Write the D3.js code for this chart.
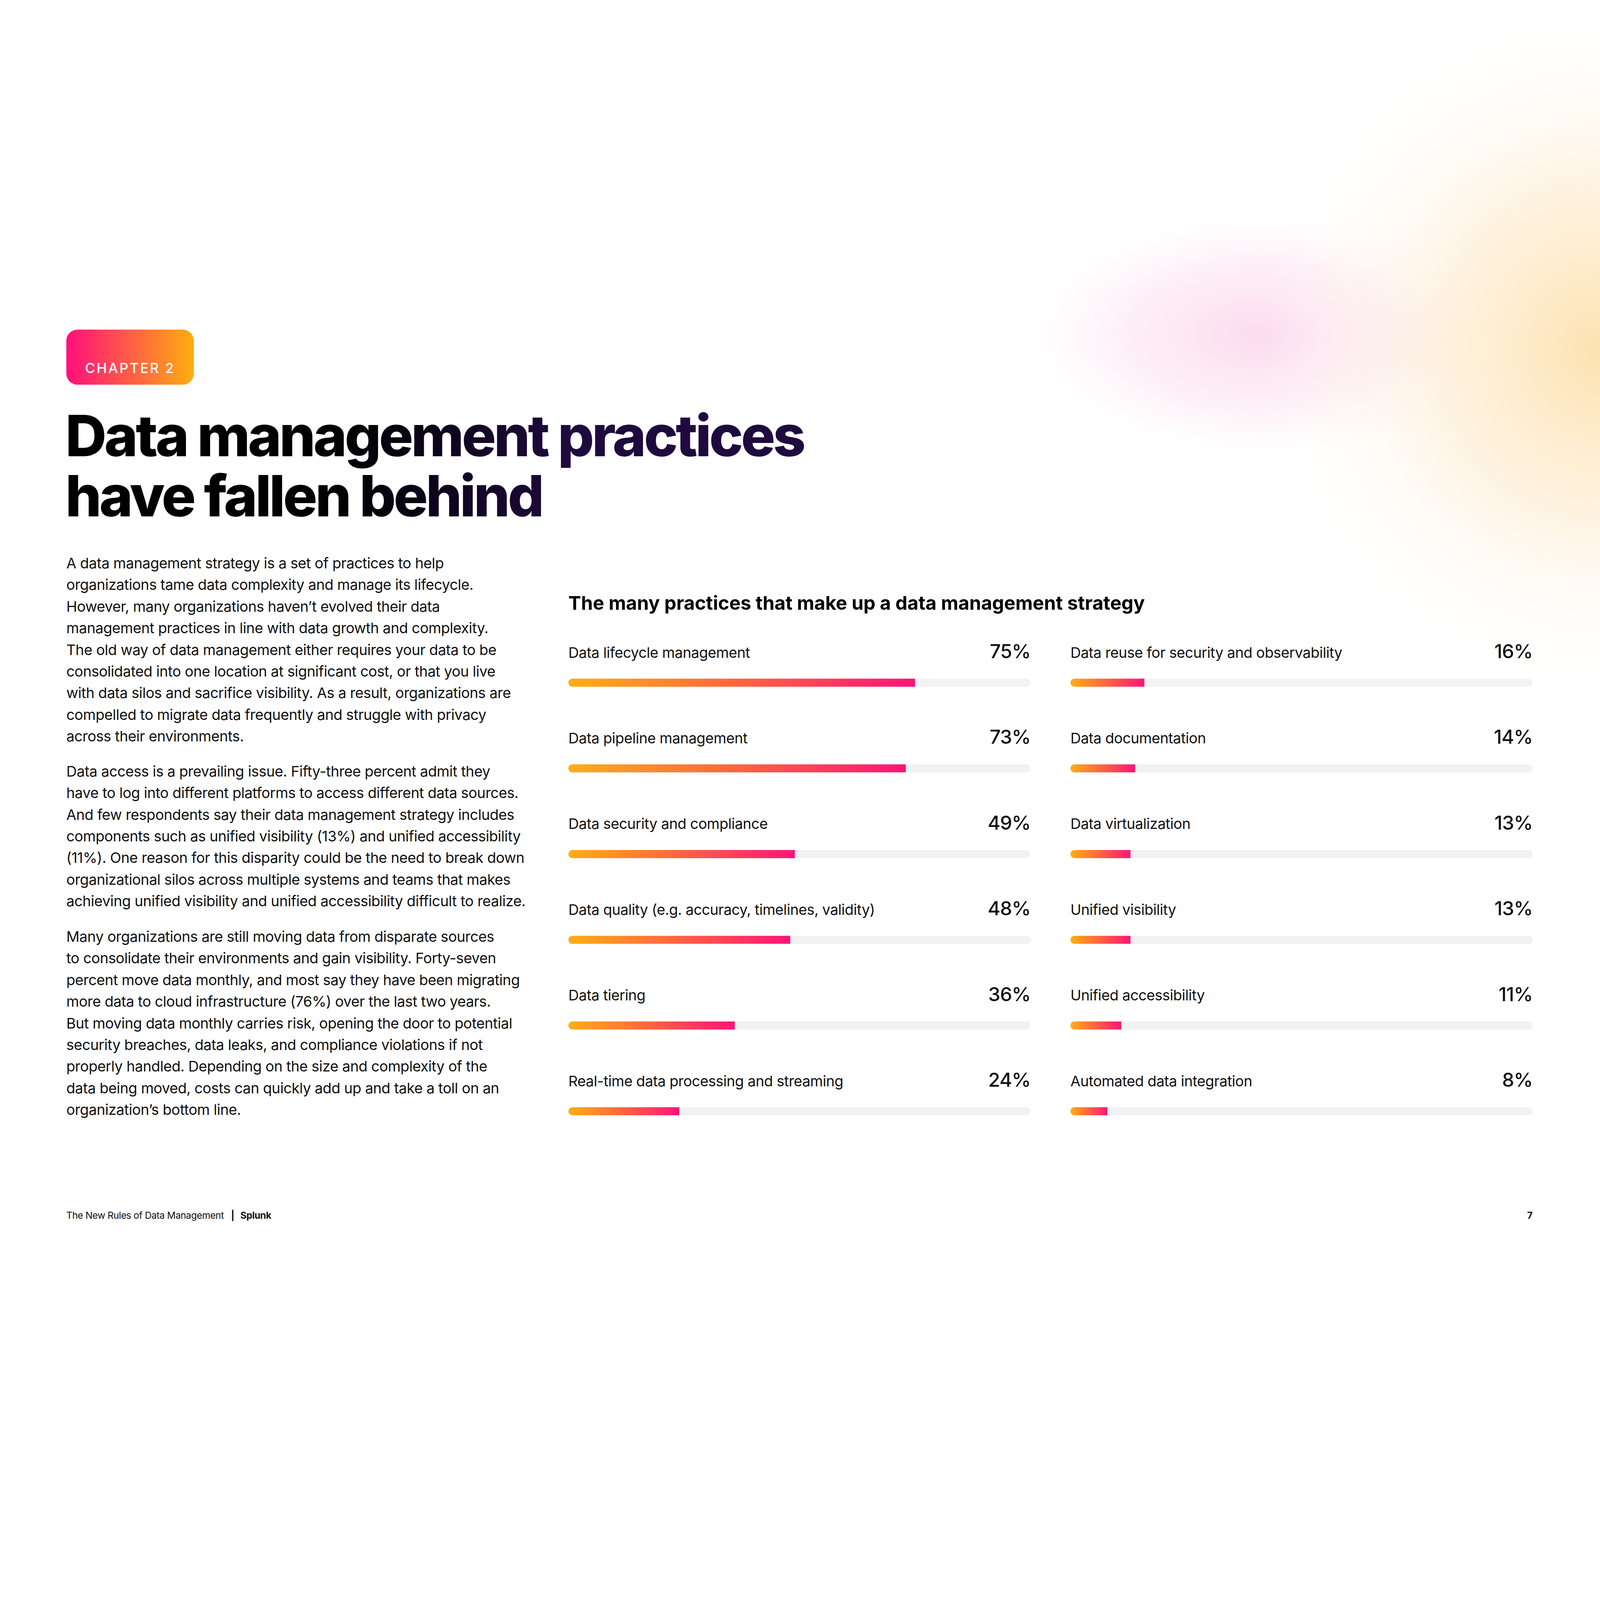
<!DOCTYPE html>
<html>
<head>
<meta charset="utf-8">
<script src="https://cdn.jsdelivr.net/npm/d3@7"></script>
<style>
  html, body { margin: 0; padding: 0; background: #fff; overflow: hidden; width: 100%; height: 100%; }
  #canvas { width: 100vw; height: 100vh; }
  svg { display: block; }
  text { font-family: Inter, "Noto Sans", sans-serif; }
</style>
</head>
<body>
<div id="canvas"></div>
<script>
// Data
const leftLabels = [
    "Data lifecycle management",
    "Data pipeline management",
    "Data security and compliance",
    "Data quality (e.g. accuracy, timelines, validity)",
    "Data tiering",
    "Real-time data processing and streaming"
];
const leftValues = [75, 73, 49, 48, 36, 24];
const rightLabels = [
    "Data reuse for security and observability",
    "Data documentation",
    "Data virtualization",
    "Unified visibility",
    "Unified accessibility",
    "Automated data integration"
];
const rightValues = [16, 14, 13, 13, 11, 8];

const chartTitle = "The many practices that make up a data management strategy";
const titleLines = ["Data management practices", "have fallen behind"];
const paragraphs = [
    [
        "A data management strategy is a set of practices to help",
        "organizations tame data complexity and manage its lifecycle.",
        "However, many organizations haven\u2019t evolved their data",
        "management practices in line with data growth and complexity.",
        "The old way of data management either requires your data to be",
        "consolidated into one location at significant cost, or that you live",
        "with data silos and sacrifice visibility. As a result, organizations are",
        "compelled to migrate data frequently and struggle with privacy",
        "across their environments."
    ],
    [
        "Data access is a prevailing issue. Fifty-three percent admit they",
        "have to log into different platforms to access different data sources.",
        "And few respondents say their data management strategy includes",
        "components such as unified visibility (13%) and unified accessibility",
        "(11%). One reason for this disparity could be the need to break down",
        "organizational silos across multiple systems and teams that makes",
        "achieving unified visibility and unified accessibility difficult to realize."
    ],
    [
        "Many organizations are still moving data from disparate sources",
        "to consolidate their environments and gain visibility. Forty-seven",
        "percent move data monthly, and most say they have been migrating",
        "more data to cloud infrastructure (76%) over the last two years.",
        "But moving data monthly carries risk, opening the door to potential",
        "security breaches, data leaks, and compliance violations if not",
        "properly handled. Depending on the size and complexity of the",
        "data being moved, costs can quickly add up and take a toll on an",
        "organization\u2019s bottom line."
    ]
];

// Page is laid out in a 1568 x 882 coordinate space and scaled to fit the window
const W = 1568, H = 882;

const svg = d3.select('#canvas')
    .append('svg')
    .attr('width', '100%')
    .attr('height', '100%')
    .attr('viewBox', `0 0 ${W} ${H}`)
    .attr('preserveAspectRatio', 'xMidYMid meet');

const defs = svg.append('defs');

// background glows
const pinkGlow = defs.append('radialGradient').attr('id', 'pinkGlow');
pinkGlow.append('stop').attr('offset', '0%').attr('stop-color', '#fbd9ec').attr('stop-opacity', 0.95);
pinkGlow.append('stop').attr('offset', '55%').attr('stop-color', '#fde6f1').attr('stop-opacity', 0.6);
pinkGlow.append('stop').attr('offset', '100%').attr('stop-color', '#ffffff').attr('stop-opacity', 0);

const orangeGlow = defs.append('radialGradient').attr('id', 'orangeGlow');
orangeGlow.append('stop').attr('offset', '0%').attr('stop-color', '#fde2b0').attr('stop-opacity', 1);
orangeGlow.append('stop').attr('offset', '45%').attr('stop-color', '#feecd0').attr('stop-opacity', 0.7);
orangeGlow.append('stop').attr('offset', '100%').attr('stop-color', '#ffffff').attr('stop-opacity', 0);

const page = svg.append('g');
page.append('rect').attr('width', W).attr('height', H).attr('fill', '#fff');

const glows = page.append('g');
glows.append('ellipse')
    .attr('cx', 1235).attr('cy', -15).attr('rx', 250).attr('ry', 130)
    .attr('fill', 'url(#pinkGlow)');
glows.append('ellipse')
    .attr('cx', 1568).attr('cy', 0).attr('rx', 330).attr('ry', 340)
    .attr('fill', 'url(#orangeGlow)');

// chapter badge
const badgeGrad = defs.append('linearGradient').attr('id', 'badgeGrad');
badgeGrad.append('stop').attr('offset', '0%').attr('stop-color', '#ff0f7b');
badgeGrad.append('stop').attr('offset', '100%').attr('stop-color', '#ffae0f');

page.append('rect')
    .attr('x', 65).attr('y', -20)
    .attr('width', 125).attr('height', 54)
    .attr('rx', 11)
    .attr('fill', 'url(#badgeGrad)');
page.append('text')
    .text('CHAPTER 2')
    .attr('x', 127.5).attr('y', 22.5)
    .attr('text-anchor', 'middle')
    .attr('fill', '#fff')
    .attr('font-size', 13.5)
    .attr('font-weight', 500)
    .attr('letter-spacing', 1.4);

// big title, black fading to deep purple (one text, two lines)
const titleGrad = defs.append('linearGradient')
    .attr('id', 'titleGrad')
    .attr('gradientUnits', 'userSpaceOnUse')
    .attr('x1', 330).attr('x2', 560).attr('y1', 0).attr('y2', 0);
titleGrad.append('stop').attr('offset', '0%').attr('stop-color', '#000000');
titleGrad.append('stop').attr('offset', '100%').attr('stop-color', '#1f0a3f');

page.append('text')
    .attr('class', 'title')
    .attr('fill', 'url(#titleGrad)')
    .attr('font-size', 56)
    .attr('font-weight', 800)
    .attr('letter-spacing', -2.2)
    .selectAll('tspan')
    .data(titleLines)
    .join('tspan')
    .text(d => d)
    .attr('x', 64)
    .attr('y', (d, i) => 104 + i * 59);

// body copy
const lineGap = 21.2;
const paraStarts = [209, 413, 575];
paragraphs.forEach((lines, p) => {
    page.append('g')
        .selectAll('text')
        .data(lines)
        .join('text')
        .text(d => d)
        .attr('x', 65)
        .attr('y', (d, i) => paraStarts[p] + 5 + i * lineGap)
        .attr('fill', '#111')
        .attr('font-size', 14.3)
        .attr('letter-spacing', -0.2);
});

// chart
page.append('text')
    .text(chartTitle)
    .attr('x', 557).attr('y', 254.5)
    .attr('fill', '#000')
    .attr('font-size', 18.6)
    .attr('font-weight', 700)
    .attr('letter-spacing', 0);

const trackW = 453;
const x = d3.scaleLinear().domain([0, 100]).range([0, trackW]);
const y = d3.scalePoint().domain(d3.range(6)).range([296, 716]);

const barGrad = defs.append('linearGradient').attr('id', 'barGrad');
barGrad.append('stop').attr('offset', '0%').attr('stop-color', '#ffae14');
barGrad.append('stop').attr('offset', '45%').attr('stop-color', '#ff6a3c');
barGrad.append('stop').attr('offset', '100%').attr('stop-color', '#ff1478');

const columns = [
    { x0: 557, labels: leftLabels, values: leftValues, id: 'l' },
    { x0: 1049, labels: rightLabels, values: rightValues, id: 'r' }
];

columns.forEach(col => {
    const rows = col.labels.map((label, i) => ({ label, value: col.values[i], i }));
    const g = page.append('g').attr('transform', `translate(${col.x0},0)`);

    // rounded clip for each track so the fill gets a rounded left end
    rows.forEach(d => {
        defs.append('clipPath').attr('id', `clip-${col.id}-${d.i}`)
            .append('rect')
            .attr('x', 0).attr('y', y(d.i) + 26)
            .attr('width', trackW).attr('height', 8)
            .attr('rx', 4);
    });

    const row = g.selectAll('.row')
        .data(rows)
        .join('g')
        .attr('class', 'row');

    row.append('text')
        .text(d => d.label)
        .attr('x', 0)
        .attr('y', d => y(d.i) + 5.5)
        .attr('fill', '#111')
        .attr('font-size', 14.3)
        .attr('letter-spacing', -0.2);

    row.append('text')
        .text(d => d.value + '%')
        .attr('x', trackW)
        .attr('y', d => y(d.i) + 6)
        .attr('text-anchor', 'end')
        .attr('fill', '#111')
        .attr('font-size', 19)
        .attr('font-weight', 500)
        .attr('letter-spacing', -0.4);

    row.append('rect')
        .attr('x', 0)
        .attr('y', d => y(d.i) + 26)
        .attr('width', trackW)
        .attr('height', 8)
        .attr('rx', 4)
        .attr('fill', '#f2f2f2');

    row.append('rect')
        .attr('x', 0)
        .attr('y', d => y(d.i) + 26)
        .attr('width', d => x(d.value))
        .attr('height', 8)
        .attr('fill', 'url(#barGrad)')
        .attr('clip-path', d => `url(#clip-${col.id}-${d.i})`);
});

// footer
const footer = page.append('text')
    .attr('x', 65).attr('y', 851.5)
    .attr('fill', '#111')
    .attr('font-size', 9.3)
    .attr('letter-spacing', -0.2);
footer.append('tspan').text('The New Rules of Data Management');
footer.append('tspan').text('|').attr('dx', 7).attr('font-weight', 700);
footer.append('tspan').text('Splunk').attr('dx', 6).attr('font-weight', 700);

page.append('text')
    .text('7')
    .attr('x', 1502).attr('y', 851.5)
    .attr('text-anchor', 'end')
    .attr('fill', '#111')
    .attr('font-size', 9.3)
    .attr('font-weight', 700);
</script>
</body>
</html>
